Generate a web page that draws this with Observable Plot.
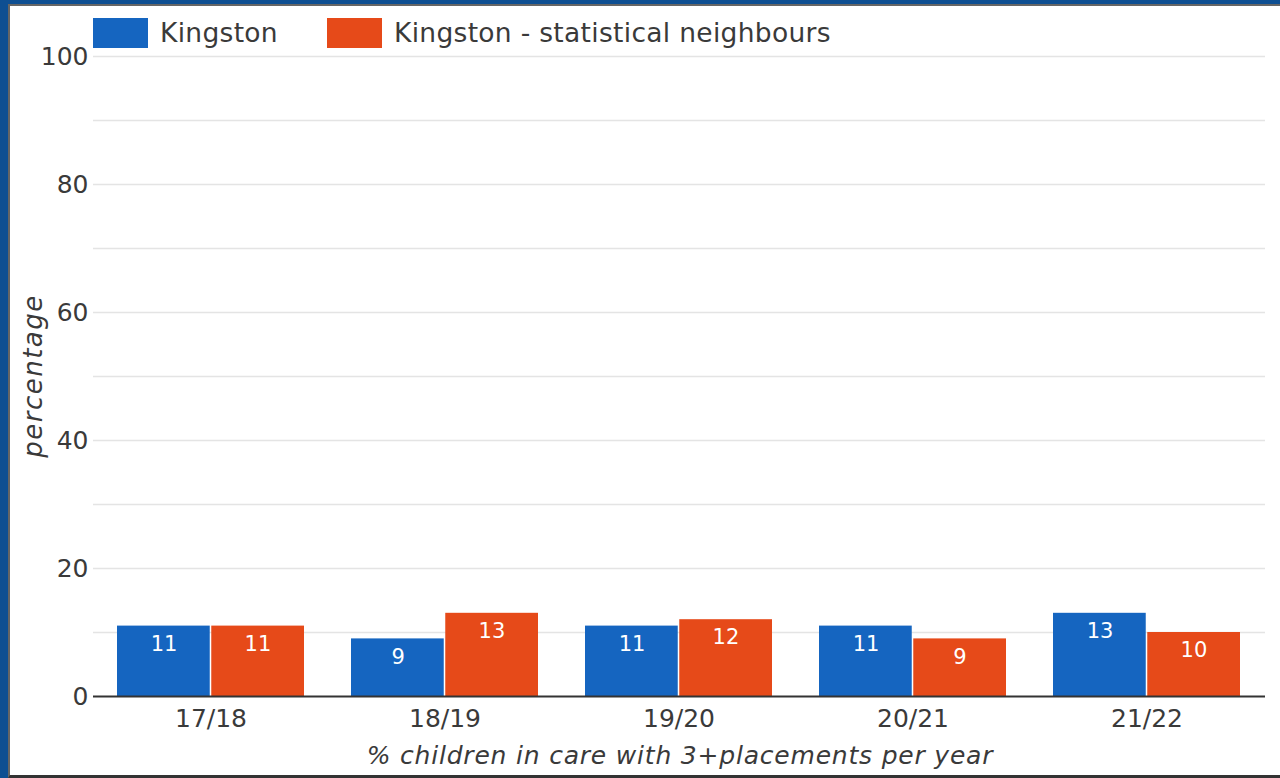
<!DOCTYPE html>
<html>
<head>
<meta charset="utf-8">
<script src="https://cdn.jsdelivr.net/npm/d3@7"></script>
<script src="https://cdn.jsdelivr.net/npm/@observablehq/plot@0.6"></script>
<style>
  html, body { margin: 0; padding: 0; }
  body { width: 1280px; height: 778px; background: #0e4f92; position: relative; overflow: hidden; font-family: "DejaVu Sans", sans-serif; }
  #panel { position: absolute; left: 8px; top: 4px; width: 1280px; height: 769px; background: #fff; border-left: 2px solid #666; border-top: 2px solid #666; border-bottom: 3px solid #333; }
  #chart { position: absolute; left: 0; top: 0; }
  #legend { position: absolute; left: 93px; top: 17px; display: flex; align-items: center; font-size: 26.5px; color: #3a3a3a; letter-spacing: 0.3px; }
  .sw { width: 55px; height: 30px; display: inline-block; margin-right: 12px; }
  .item { display: flex; align-items: center; margin-right: 49px; }
  #ylab { position: absolute; left: 33px; top: 376px; transform: translate(-50%, -50%) rotate(-90deg); font-size: 26px; letter-spacing: 1.5px; font-style: italic; color: #3a3a3a; white-space: nowrap; }
  #xlab { position: absolute; left: 680px; top: 755px; transform: translate(-50%, -50%); font-size: 25px; letter-spacing: 0.8px; font-style: italic; color: #3a3a3a; white-space: nowrap; }
</style>
</head>
<body>
<div id="panel"></div>
<div id="chart"></div>
<div id="legend"></div>
<div id="ylab">percentage</div>
<div id="xlab">% children in care with 3+placements per year</div>
<script>
const years = ["17/18", "18/19", "19/20", "20/21", "21/22"];
const kingston = [11, 9, 11, 11, 13];
const neighbours = [11, 13, 12, 9, 10];
const seriesNames = ["Kingston", "Kingston - statistical neighbours"];
const seriesColors = ["#1565c0", "#e64a19"];
const yTicks = [0, 20, 40, 60, 80, 100];
const gridValues = [10, 20, 30, 40, 50, 60, 70, 80, 90, 100];

const rows = years.flatMap((yr, i) => [
  {year: yr, series: seriesNames[0], value: kingston[i]},
  {year: yr, series: seriesNames[1], value: neighbours[i]}
]);
const kRows = rows.filter(d => d.series === seriesNames[0]);
const nRows = rows.filter(d => d.series === seriesNames[1]);

const W = 1280, H = 778, mL = 93, mR = 15, mT = 56, mB = 82;
const padInner = 0.2, padOuter = 0.1;
const step = (W - mL - mR) / (years.length - padInner + 2 * padOuter);
const bw = step * (1 - padInner);
const half = bw / 2;

const color = {domain: seriesNames, range: seriesColors};

const plot = Plot.plot({
  width: W, height: H,
  marginLeft: mL, marginRight: mR, marginTop: mT, marginBottom: mB,
  style: {fontFamily: "DejaVu Sans, sans-serif", fontSize: "25px", color: "#3a3a3a", background: "transparent"},
  x: {type: "band", domain: years, paddingInner: padInner, paddingOuter: padOuter, tickSize: 0, tickPadding: 13, label: null},
  y: {domain: [0, 100], ticks: yTicks, tickSize: 0, tickPadding: 5, label: null},
  color,
  marks: [
    Plot.ruleY(gridValues, {stroke: "#e4e4e4", strokeWidth: 1.5}),
    Plot.barY(kRows, {x: "year", y: "value", fill: "series", insetRight: half + 0.5}),
    Plot.barY(nRows, {x: "year", y: "value", fill: "series", insetLeft: half + 0.5}),
    Plot.text(kRows, {x: "year", y: "value", text: d => String(d.value), dx: -half / 2, dy: 18, fill: "white", fontSize: 21}),
    Plot.text(nRows, {x: "year", y: "value", text: d => String(d.value), dx: half / 2, dy: 18, fill: "white", fontSize: 21}),
    Plot.ruleY([0], {stroke: "#333", strokeWidth: 2})
  ]
});
document.getElementById("chart").appendChild(plot);

const legend = document.getElementById("legend");
seriesNames.forEach((name, i) => {
  const item = document.createElement("div");
  item.className = "item";
  const sw = document.createElement("span");
  sw.className = "sw";
  sw.style.background = seriesColors[i];
  const lab = document.createElement("span");
  lab.textContent = name;
  item.appendChild(sw);
  item.appendChild(lab);
  legend.appendChild(item);
});
</script>
</body>
</html>
